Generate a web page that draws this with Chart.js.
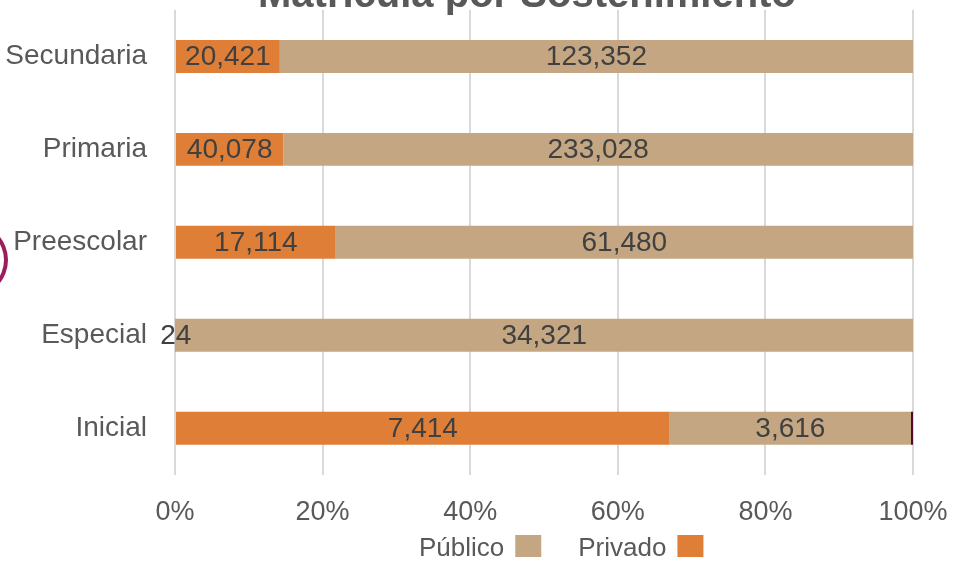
<!DOCTYPE html>
<html>
<head>
<meta charset="utf-8">
<script src="https://cdn.jsdelivr.net/npm/chart.js@4/dist/chart.umd.min.js"></script>
<style>
  html, body { margin: 0; padding: 0; background: #fff; overflow: hidden; }
  #wrap { position: relative; width: 954px; height: 561px; }
  #arc { position: absolute; left: -62px; top: 224px; width: 62px; height: 64px; border-radius: 50%; border: 4px solid #9c1c5c; }
</style>
</head>
<body>
<div id="wrap">
  <canvas id="chart" width="954" height="561"></canvas>
  <div id="arc"></div>
</div>
<script>
const categories = ['Secundaria', 'Primaria', 'Preescolar', 'Especial', 'Inicial'];
const privado = [20421, 40078, 17114, 24, 7414];
const publico = [123352, 233028, 61480, 34321, 3616];
const otro = [0, 0, 0, 0, 30];

const totals = categories.map((c, i) => privado[i] + publico[i] + otro[i]);
const pct = arr => arr.map((v, i) => v / totals[i] * 100);

const fontFamily = '"Liberation Sans", Arial, Helvetica, sans-serif';

// etiquetas de valor dentro de cada segmento
const valueLabels = {
  id: 'valueLabels',
  afterDatasetsDraw(chart) {
    const ctx = chart.ctx;
    ctx.save();
    ctx.font = '28px ' + fontFamily;
    ctx.fillStyle = '#404040';
    ctx.textAlign = 'center';
    ctx.textBaseline = 'middle';
    chart.data.datasets.forEach((ds, di) => {
      if (!ds.raw) return;
      chart.getDatasetMeta(di).data.forEach((bar, i) => {
        const v = ds.raw[i];
        if (!v) return;
        const x = (bar.x + bar.base) / 2;
        ctx.fillText(v.toLocaleString('en-US'), x, bar.y + 1);
      });
    });
    ctx.restore();
  }
};

// título (recortado arriba) y leyenda con el texto antes del cuadro
const extras = {
  id: 'extras',
  afterDraw(chart) {
    const ctx = chart.ctx;
    ctx.save();
    ctx.font = 'bold 40px ' + fontFamily;
    ctx.fillStyle = '#595959';
    ctx.textAlign = 'left';
    ctx.textBaseline = 'alphabetic';
    ctx.fillText('Matrícula por Sostenimiento', 258, 7);

    ctx.font = '26px ' + fontFamily;
    let x = 419;
    const items = chart.data.datasets.filter(ds => ds.raw).reverse();
    items.forEach(ds => {
      ctx.fillStyle = '#595959';
      ctx.fillText(ds.label, x, 556);
      x += ctx.measureText(ds.label).width + 11;
      ctx.fillStyle = ds.backgroundColor;
      ctx.fillRect(x, 535, 26, 22);
      x += 26 + 37;
    });
    ctx.restore();
  }
};

new Chart(document.getElementById('chart').getContext('2d'), {
  type: 'bar',
  data: {
    labels: categories,
    datasets: [{
      label: 'Privado',
      data: pct(privado),
      raw: privado,
      backgroundColor: '#df7f37',
      barPercentage: 0.71,
      categoryPercentage: 0.5
    }, {
      label: 'Público',
      data: pct(publico),
      raw: publico,
      backgroundColor: '#c4a782',
      barPercentage: 0.71,
      categoryPercentage: 0.5
    }, {
      label: 'Otro',
      data: pct(otro),
      backgroundColor: '#4e0a2a',
      barPercentage: 0.71,
      categoryPercentage: 0.5
    }]
  },
  options: {
    responsive: false,
    animation: false,
    indexAxis: 'y',
    layout: { padding: { top: 10, right: 41, left: 0, bottom: 10 } },
    scales: {
      x: {
        stacked: true,
        min: 0,
        max: 100,
        ticks: {
          stepSize: 20,
          callback: v => v + '%',
          color: '#595959',
          font: { family: fontFamily, size: 27 },
          padding: 22,
          maxRotation: 0
        },
        grid: { color: '#d9d9d9', lineWidth: 2, drawTicks: false },
        border: { display: false },
        afterFit(scale) { scale.paddingLeft = 0; scale.paddingRight = 0; }
      },
      y: {
        stacked: true,
        ticks: {
          color: '#595959',
          font: { family: fontFamily, size: 28 },
          padding: 28
        },
        grid: { display: false, drawTicks: false },
        border: { display: false },
        afterFit(scale) {
          scale.width = 175;
          scale.paddingTop = 0;
          scale.paddingBottom = 0;
        }
      }
    },
    plugins: {
      legend: { display: false },
      tooltip: { enabled: false }
    }
  },
  plugins: [valueLabels, extras]
});
</script>
</body>
</html>
